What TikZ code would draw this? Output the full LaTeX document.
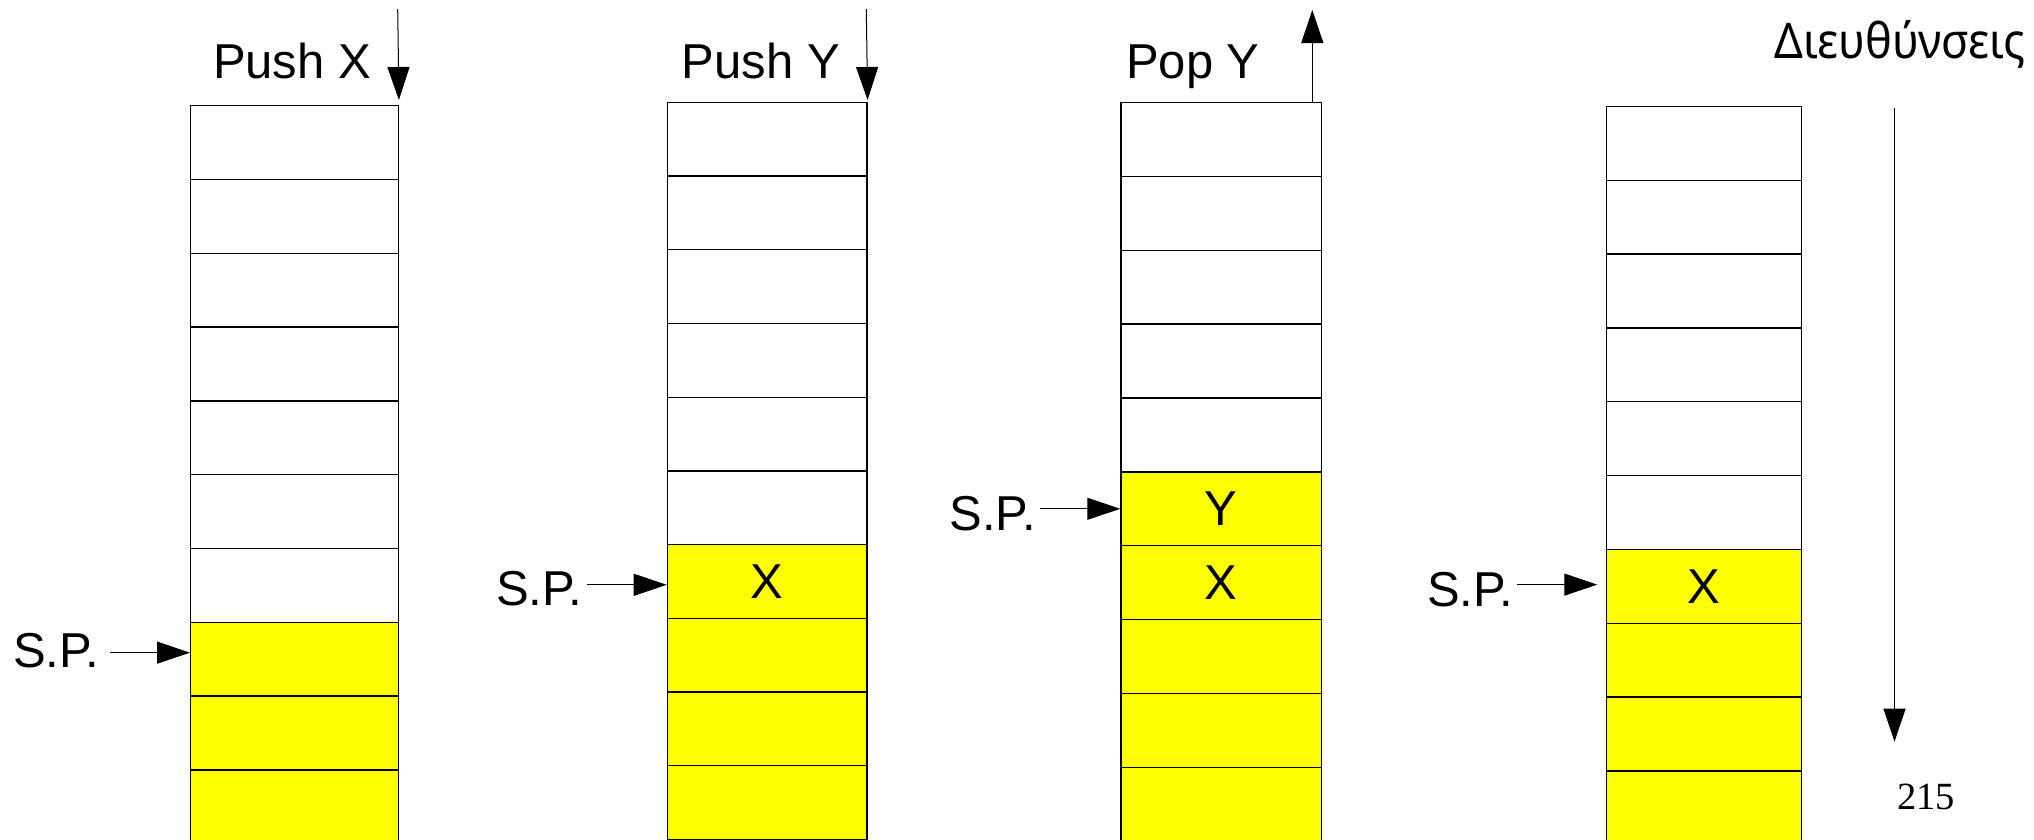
\documentclass[tikz,border=0pt]{standalone}
\usepackage{fontspec}
\setmainfont{Liberation Sans}
\newfontfamily\greekfont{Noto Sans}
\newfontfamily\pagefont{Liberation Serif}
\usetikzlibrary{arrows.meta}
\definecolor{stackyellow}{RGB}{255,255,0}

\begin{document}
\begin{tikzpicture}[x=1pt,y=-1pt,
  cell/.style={draw=black, line width=1.3pt, rectangle, inner sep=0pt,
    anchor=north west, font=\fontsize{49}{59}\selectfont},
  used/.style={fill=stackyellow},
  lbl/.style={inner sep=0pt, font=\fontsize{49}{59}\selectfont},
  ptr/.style={line width=1pt, -{Triangle[length=33pt,width=22pt]}},
]
\useasboundingbox (0,0) rectangle (2034,839);

% ---- stack 1: after Push X ----
\foreach \i in {0,...,6}
  \node[cell, minimum width=207.7pt, minimum height=73.8pt] (s1c\i) at (190,{105+\i*73.8}) {};
\foreach \i in {7,8,9}
  \node[cell, used, minimum width=207.7pt, minimum height=73.8pt] (s1c\i) at (190,{105+\i*73.8}) {};

% ---- stack 2: after Push Y ----
\foreach \i in {0,...,5}
  \node[cell, minimum width=199.6pt, minimum height=73.7pt] (s2c\i) at (666.7,{101.7+\i*73.7}) {};
\node[cell, used, minimum width=199.6pt, minimum height=73.7pt] (s2c6) at (666.7,{101.7+6*73.7}) {X};
\foreach \i in {7,8,9}
  \node[cell, used, minimum width=199.6pt, minimum height=73.7pt] (s2c\i) at (666.7,{101.7+\i*73.7}) {};

% ---- stack 3: before Pop Y ----
\foreach \i in {0,...,4}
  \node[cell, minimum width=200.7pt, minimum height=73.9pt] (s3c\i) at (1120.3,{101.7+\i*73.9}) {};
\node[cell, used, minimum width=200.7pt, minimum height=73.9pt] (s3c5) at (1120.3,{101.7+5*73.9}) {Y};
\node[cell, used, minimum width=200.7pt, minimum height=73.9pt] (s3c6) at (1120.3,{101.7+6*73.9}) {X};
\foreach \i in {7,8,9}
  \node[cell, used, minimum width=200.7pt, minimum height=73.9pt] (s3c\i) at (1120.3,{101.7+\i*73.9}) {};

% ---- stack 4: after Pop Y ----
\foreach \i in {0,...,5}
  \node[cell, minimum width=194.9pt, minimum height=73.84pt] (s4c\i) at (1605.8,{105.7+\i*73.84}) {};
\node[cell, used, minimum width=194.9pt, minimum height=73.84pt] (s4c6) at (1605.8,{105.7+6*73.84}) {X};
\foreach \i in {7,8,9}
  \node[cell, used, minimum width=194.9pt, minimum height=73.84pt] (s4c\i) at (1605.8,{105.7+\i*73.84}) {};

% ---- operation labels and arrows ----
\node[lbl, anchor=base] (push1) at (292,78) {Push X};
\coordinate (in1) at (397.7,9);
\draw[ptr, shorten >=5pt] (in1) -- (s1c0.north east);

\node[lbl, anchor=base] (push2) at (760.8,78) {Push Y};
\coordinate (in2) at (866.3,9);
\draw[ptr, shorten >=1.7pt] (in2) -- (s2c0.north east);

\node[lbl, anchor=base] (pop3) at (1192.9,78) {Pop Y};
\coordinate (out3) at (1312.3,10);
\draw[ptr] (out3 |- s3c0.north) -- (out3);

% ---- stack pointers ----
\node[lbl, anchor=base east] (sp1) at (99.5,667) {S.P.};
\coordinate (p1) at ([yshift=6.5pt]s1c7.west);
\draw[ptr, shorten <=10.5pt] (sp1.east |- p1) -- (p1);

\node[lbl, anchor=base east] (sp2) at (582.5,605) {S.P.};
\coordinate (p2) at ([yshift=-3.4pt]s2c6.west);
\draw[ptr, shorten <=4pt] (sp2.east |- p2) -- (p2);

\node[lbl, anchor=base east] (sp3) at (1036,530) {S.P.};
\draw[ptr, shorten <=4pt] (sp3.east |- s3c5.west) -- (s3c5.west);

\node[lbl, anchor=base east] (sp4) at (1513.7,606.7) {S.P.};
\coordinate (p4) at ([yshift=1.7pt]s4c6.west);
\draw[ptr, shorten <=3pt, shorten >=8.5pt] (sp4.east |- p4) -- (p4);

% ---- address direction ----
\node[lbl, font=\greekfont\fontsize{49}{59}\selectfont, anchor=base] (addr) at (1900,58.3) {\scalebox{0.92}[1]{Διευθύνσεις}};
\coordinate (atop) at (1894.5,108);
\coordinate (abot) at (1894.5,741.7);
\draw[ptr] (atop) -- (abot);

\node[lbl, font=\pagefont\fontsize{38.5}{46}\selectfont, anchor=base] (pg) at (1926.2,809.3) {215};
\end{tikzpicture}
\end{document}
